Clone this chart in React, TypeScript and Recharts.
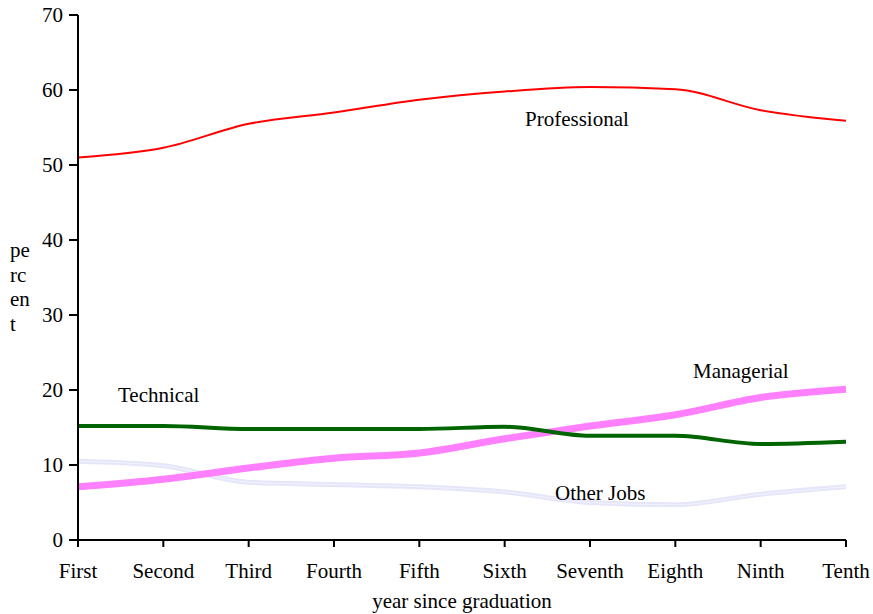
import { LineChart, Line, XAxis, YAxis } from "recharts";

const years = ["First", "Second", "Third", "Fourth", "Fifth", "Sixth", "Seventh", "Eighth", "Ninth", "Tenth"];
const professional = [51.0, 52.3, 55.5, 57.0, 58.7, 59.8, 60.4, 60.1, 57.3, 55.9];
const technical = [15.2, 15.2, 14.8, 14.8, 14.8, 15.1, 13.9, 13.9, 12.8, 13.1];
const managerial = [7.1, 8.1, 9.6, 10.9, 11.6, 13.5, 15.2, 16.7, 19.0, 20.1];
const otherJobs = [10.5, 9.9, 7.7, 7.4, 7.1, 6.4, 5.0, 4.7, 6.1, 7.1];
const yTicks = [0, 10, 20, 30, 40, 50, 60, 70];

const data = years.map((year, i) => ({
  year,
  professional: professional[i],
  technical: technical[i],
  managerial: managerial[i],
  otherJobs: otherJobs[i],
}));

const font = "'Liberation Serif', 'Times New Roman', serif";
const tickStyle = { fill: "#000", fontSize: 21, fontFamily: font };

const labelStyle: React.CSSProperties = {
  position: "absolute",
  fontFamily: font,
  fontSize: 21,
  color: "#000",
  whiteSpace: "nowrap",
  lineHeight: "24px",
};

export default function App() {
  return (
    <div style={{ position: "absolute", left: 0, top: 0, width: 873, height: 614, background: "#fff" }}>
      <LineChart width={873} height={614} data={data} margin={{ top: 15, right: 27, left: 0, bottom: 0 }}>
        <XAxis
          dataKey="year"
          height={74}
          tick={tickStyle}
          tickSize={7}
          tickMargin={16}
          stroke="#000"
          strokeWidth={2}
          interval={0}
          label={{ value: "year since graduation", position: "insideBottom", offset: 6, style: { ...tickStyle, textAnchor: "middle" } }}
        />
        <YAxis
          width={78}
          domain={[0, 70]}
          ticks={yTicks}
          tick={tickStyle}
          tickSize={9}
          tickMargin={6}
          stroke="#000"
          strokeWidth={2}
          interval={0}
        />
        <Line dataKey="otherJobs" type="monotone" stroke="#e6e6fa" strokeWidth={5} dot={false} isAnimationActive={false} />
        <Line dataKey="otherJobs" type="monotone" stroke="#f3f3fd" strokeWidth={1} dot={false} isAnimationActive={false} />
        <Line dataKey="managerial" type="monotone" stroke="#ff80ff" strokeWidth={7} dot={false} isAnimationActive={false} />
        <Line dataKey="technical" type="monotone" stroke="#006400" strokeWidth={4} dot={false} isAnimationActive={false} />
        <Line dataKey="professional" type="monotone" stroke="#ff0000" strokeWidth={2} dot={false} isAnimationActive={false} />
      </LineChart>
      <div style={{ ...labelStyle, left: 525, top: 107 }}>Professional</div>
      <div style={{ ...labelStyle, left: 118, top: 383 }}>Technical</div>
      <div style={{ ...labelStyle, left: 693, top: 359 }}>Managerial</div>
      <div style={{ ...labelStyle, left: 555, top: 481 }}>Other Jobs</div>
      <div style={{ ...labelStyle, left: 10, top: 238, lineHeight: "24.5px", whiteSpace: "normal" }}>
        pe<br />rc<br />en<br />t
      </div>
    </div>
  );
}
